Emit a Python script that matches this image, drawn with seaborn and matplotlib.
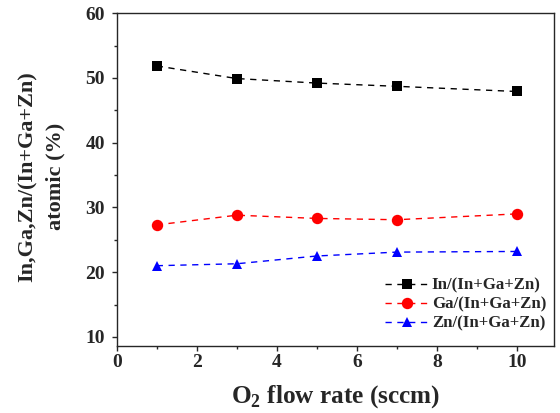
import matplotlib
matplotlib.use("Agg")
import matplotlib.pyplot as plt
import seaborn as sns
import pandas as pd
from matplotlib.ticker import MultipleLocator

flow = [1, 3, 5, 7, 10]
in_ratio = [51.85, 49.9, 49.2, 48.7, 47.9]
ga_ratio = [27.3, 28.8, 28.3, 28.1, 29.0]
zn_ratio = [21.0, 21.3, 22.5, 23.1, 23.2]
labels = ["In/(In+Ga+Zn)", "Ga/(In+Ga+Zn)", "Zn/(In+Ga+Zn)"]
colors = ["black", "red", "blue"]
markers = ["s", "o", "^"]
msizes = [7.0, 8.2, 7.6]

df = pd.DataFrame({
    "flow": flow * 3,
    "value": in_ratio + ga_ratio + zn_ratio,
    "series": [labels[0]] * 5 + [labels[1]] * 5 + [labels[2]] * 5,
})

sns.set_style("ticks")
plt.rcParams["font.family"] = ["Liberation Serif", "DejaVu Serif"]
plt.rcParams["font.weight"] = "bold"
plt.rcParams["mathtext.fontset"] = "custom"
plt.rcParams["mathtext.rm"] = "Liberation Serif:bold"
plt.rcParams["mathtext.bf"] = "Liberation Serif:bold"

fig = plt.figure(figsize=(5.6, 4.13), dpi=100)
ax = fig.add_axes([0.2084, 0.1622, 0.781, 0.806])

for lab, col, mk, ms in zip(labels, colors, markers, msizes):
    sns.lineplot(data=df[df["series"] == lab], x="flow", y="value", color=col,
                 marker=mk, markersize=ms, markeredgewidth=0, linewidth=1.0,
                 label=lab, ax=ax)
for line in ax.get_lines():
    line.set_dashes((4.5, 4.0))

ax.set_xlim(0, 10.93)
ax.set_ylim(8.6, 60)
ax.xaxis.set_major_locator(MultipleLocator(2))
ax.xaxis.set_minor_locator(MultipleLocator(1))
ax.yaxis.set_major_locator(MultipleLocator(10))
ax.yaxis.set_minor_locator(MultipleLocator(5))
ax.tick_params(which="both", direction="out", top=False, right=False, width=1)
ax.tick_params(which="major", length=3.6, labelsize=14)
ax.tick_params(which="minor", length=2.4)
ax.tick_params(axis="x", which="major", pad=2)
ax.tick_params(axis="y", which="major", pad=5)
for s in ax.spines.values():
    s.set_linewidth(1.0)
    s.set_visible(True)
for t in ax.get_xticklabels() + ax.get_yticklabels():
    t.set_fontweight("bold")

ax.set_xlabel(r"O$_\mathbf{2}$ flow rate (sccm)", fontsize=18.2, fontweight="bold", labelpad=9)
ax.set_ylabel("In,Ga,Zn/(In+Ga+Zn)\natomic (%)", fontsize=16, fontweight="bold",
              linespacing=1.55)
ax.yaxis.set_label_coords(-0.117, 0.51)

leg = ax.legend(loc="lower right", bbox_to_anchor=(1.003, 0.015), frameon=False,
                fontsize=12.1, handlelength=2.6, borderaxespad=0.25,
                labelspacing=0.19, handletextpad=0.2, borderpad=0.3)
for t in leg.get_texts():
    t.set_fontweight("bold")
for h in leg.get_lines():
    h.set_dashes((4.5, 4.0))

fig.savefig("out.png", dpi=100)
